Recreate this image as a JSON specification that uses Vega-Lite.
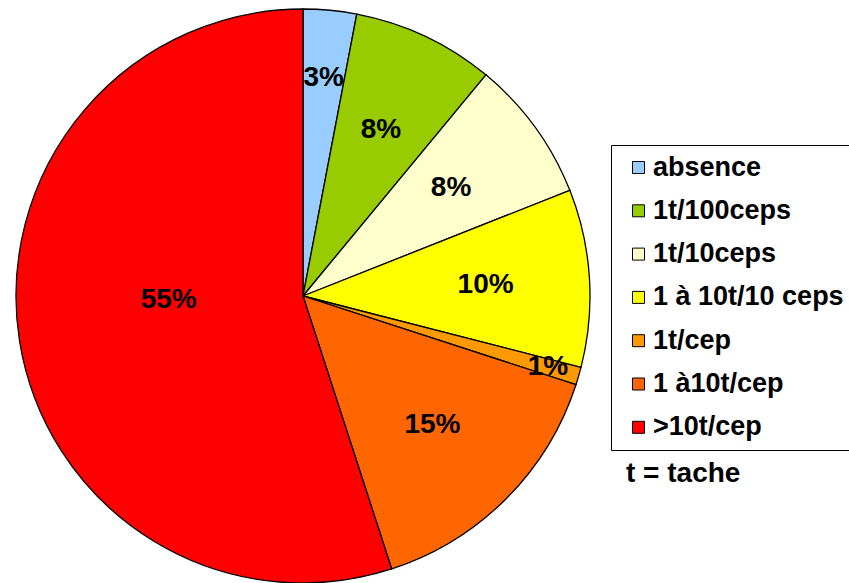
{
  "$schema": "https://vega.github.io/schema/vega-lite/v6.json",
  "autosize": "none",
  "width": 606,
  "height": 574,
  "padding": {"left": 0, "top": 9, "right": 243, "bottom": 0},
  "background": "white",
  "title": {
    "text": "t = tache",
    "orient": "top",
    "anchor": "start",
    "frame": "group",
    "offset": 0,
    "dx": 626,
    "dy": 504,
    "baseline": "alphabetic",
    "font": "Liberation Sans",
    "fontSize": 28,
    "fontWeight": "bold",
    "color": "black"
  },
  "data": {
    "values": [
      {"i": 1, "cat": "absence", "value": 3},
      {"i": 2, "cat": "1t/100ceps", "value": 8},
      {"i": 3, "cat": "1t/10ceps", "value": 8},
      {"i": 4, "cat": "1 à 10t/10 ceps", "value": 10},
      {"i": 5, "cat": "1t/cep", "value": 1},
      {"i": 6, "cat": "1 à10t/cep", "value": 15},
      {"i": 7, "cat": ">10t/cep", "value": 55}
    ]
  },
  "transform": [{"calculate": "datum.value + '%'", "as": "label"}],
  "encoding": {
    "theta": {"field": "value", "type": "quantitative", "stack": true},
    "order": {"field": "i", "type": "quantitative"}
  },
  "layer": [
    {
      "mark": {"type": "arc", "outerRadius": 287, "stroke": "black", "strokeWidth": 1.3},
      "encoding": {
        "color": {
          "field": "cat",
          "type": "nominal",
          "scale": {
            "domain": ["absence", "1t/100ceps", "1t/10ceps", "1 à 10t/10 ceps", "1t/cep", "1 à10t/cep", ">10t/cep"],
            "range": ["#99CCFF", "#99CC00", "#FFFFCC", "#FFFF00", "#FF9900", "#FF6600", "#FF0000"]
          },
          "legend": {
            "title": null,
            "orient": "none",
            "legendX": 611,
            "legendY": 136,
            "strokeColor": "black",
            "fillColor": "white",
            "padding": 9,
            "symbolOffset": 5,
            "symbolType": "square",
            "symbolSize": 144,
            "symbolStrokeColor": "black",
            "symbolStrokeWidth": 1,
            "labelFont": "Liberation Sans",
            "labelFontWeight": "bold",
            "labelFontSize": 27,
            "labelColor": "black",
            "labelOffset": 1,
            "labelLimit": 300,
            "rowPadding": 15.3
          }
        }
      }
    },
    {
      "mark": {"type": "text", "radius": 183, "font": "Liberation Sans", "fontWeight": "bold", "fontSize": 28, "color": "black"},
      "encoding": {
        "text": {"condition": {"test": "datum.i == 2 || datum.i == 3 || datum.i == 4 || datum.i == 6", "field": "label", "type": "nominal"}, "value": ""}
      }
    },
    {
      "mark": {"type": "text", "radius": 219, "font": "Liberation Sans", "fontWeight": "bold", "fontSize": 28, "color": "black"},
      "encoding": {
        "text": {"condition": {"test": "datum.i == 1", "field": "label", "type": "nominal"}, "value": ""}
      }
    },
    {
      "mark": {"type": "text", "radius": 255, "font": "Liberation Sans", "fontWeight": "bold", "fontSize": 28, "color": "black"},
      "encoding": {
        "text": {"condition": {"test": "datum.i == 5", "field": "label", "type": "nominal"}, "value": ""}
      }
    },
    {
      "mark": {"type": "text", "radius": 136, "dy": -17, "font": "Liberation Sans", "fontWeight": "bold", "fontSize": 28, "color": "black"},
      "encoding": {
        "text": {"condition": {"test": "datum.i == 7", "field": "label", "type": "nominal"}, "value": ""}
      }
    }
  ],
  "config": {"view": {"stroke": null}}
}
